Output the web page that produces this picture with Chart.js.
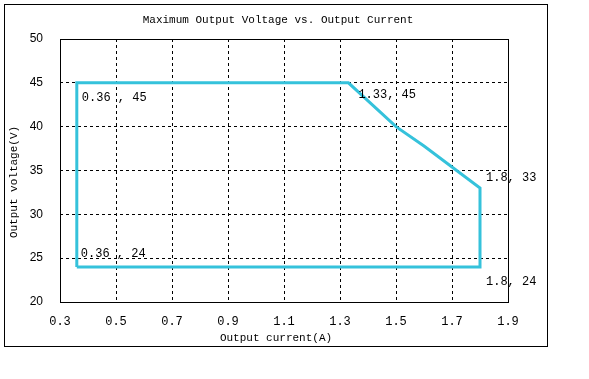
<!DOCTYPE html>
<html>
<head>
<meta charset="utf-8">
<script src="https://cdn.jsdelivr.net/npm/chart.js@4.4.0/dist/chart.umd.min.js"></script>
<style>
    html, body { margin: 0; padding: 0; background: #fff; }
    #wrap { width: 589px; height: 379px; }
</style>
</head>
<body>
<div id="wrap"><canvas id="grafico" width="589" height="379"></canvas></div>
<script>
// Dados do gráfico
const correnteA = [0.36, 0.36, 1.33, 1.5, 1.6, 1.8, 1.8, 0.36];
const tensaoV = [24, 45, 45, 40, 37.8, 33, 24, 24];

const xTicks = [0.3, 0.5, 0.7, 0.9, 1.1, 1.3, 1.5, 1.7, 1.9];
const yTicks = [20, 25, 30, 35, 40, 45, 50];

// Rótulos dos cantos
const rotulosX = [0.36, 1.33, 1.8, 0.36, 1.8];
const rotulosY = [45, 45, 33, 24, 24];
const rotulosTexto = ['0.36 , 45', '1.33, 45', '1.8, 33', '0.36 , 24', '1.8, 24'];
const rotulosDx = [5, 10, 6, 4, 6];
const rotulosDy = [15, 12, -10, -13, 15];

const titulo = 'Maximum Output Voltage vs. Output Current';
const tituloX = 'Output current(A)';
const tituloY = 'Output voltage(V)';

const MONO = '"Liberation Mono", "DejaVu Sans Mono", monospace';

// Plugin para desenhar moldura, títulos e rótulos
const extras = {
    id: 'extras',
    afterDraw(chart) {
        const ctx = chart.ctx;
        const area = chart.chartArea;
        const sx = chart.scales.x;
        const sy = chart.scales.y;
        ctx.save();

        // moldura externa
        ctx.strokeStyle = '#000';
        ctx.lineWidth = 1;
        ctx.strokeRect(4.5, 4.5, 543, 342);

        // borda da área do gráfico
        ctx.strokeRect(Math.round(area.left) + 0.5, Math.round(area.top) + 0.5,
            Math.round(area.right - area.left), Math.round(area.bottom - area.top));

        ctx.fillStyle = '#000';
        ctx.font = '11px ' + MONO;
        ctx.textAlign = 'center';
        ctx.textBaseline = 'middle';
        ctx.fillText(titulo, 278, 20);
        ctx.fillText(tituloX, 276, 338);

        ctx.save();
        ctx.translate(14, 182);
        ctx.rotate(-Math.PI / 2);
        ctx.fillText(tituloY, 0, 0);
        ctx.restore();

        ctx.font = '12px ' + MONO;
        ctx.textAlign = 'left';
        rotulosTexto.forEach((txt, i) => {
            const px = sx.getPixelForValue(rotulosX[i]) + rotulosDx[i];
            const py = sy.getPixelForValue(rotulosY[i]) + rotulosDy[i];
            ctx.fillText(txt, px, py);
        });
        ctx.restore();
    }
};

const ctx = document.getElementById('grafico').getContext('2d');
new Chart(ctx, {
    type: 'scatter',
    data: {
        datasets: [{
            data: correnteA.map((x, i) => ({ x: x, y: tensaoV[i] })),
            showLine: true,
            borderColor: '#35C2DB',
            borderWidth: 3,
            pointRadius: 0,
            tension: 0,
            fill: false
        }]
    },
    options: {
        responsive: false,
        animation: false,
        layout: { padding: { top: 39, right: 81, left: 0, bottom: 0 } },
        plugins: {
            legend: { display: false },
            title: { display: false },
            tooltip: { enabled: false }
        },
        scales: {
            x: {
                type: 'linear',
                min: 0.3,
                max: 1.9,
                afterBuildTicks: (scale) => { scale.ticks = xTicks.map(v => ({ value: v })); },
                afterFit: (scale) => { scale.height = 77; },
                ticks: {
                    color: '#000',
                    padding: 13,
                    font: { family: MONO, size: 12 },
                    callback: (v) => v.toFixed(1)
                },
                grid: { color: '#000', lineWidth: 1, drawTicks: false },
                border: { display: false, dash: [3, 3] }
            },
            y: {
                type: 'linear',
                min: 20,
                max: 50,
                afterBuildTicks: (scale) => { scale.ticks = yTicks.map(v => ({ value: v })); },
                afterFit: (scale) => { scale.width = 60; },
                ticks: {
                    color: '#000',
                    padding: 17,
                    font: { family: '"Liberation Sans", Arial, sans-serif', size: 12 }
                },
                grid: { color: '#000', lineWidth: 1, drawTicks: false },
                border: { display: false, dash: [3, 3] }
            }
        }
    },
    plugins: [extras]
});
</script>
</body>
</html>
